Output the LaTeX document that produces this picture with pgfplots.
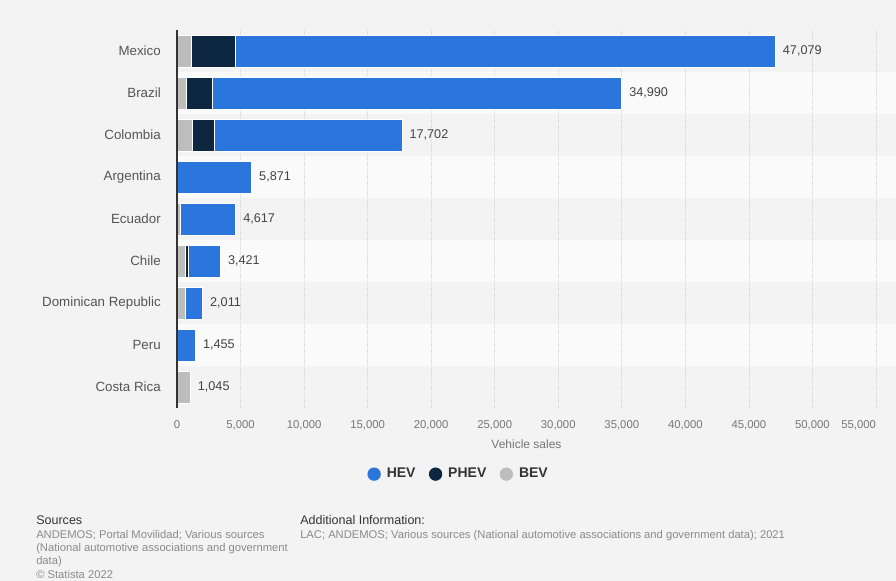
\documentclass[border=0pt]{standalone}
\usepackage{pgfplots}
\pgfplotsset{compat=1.18}
\usepackage{fontspec}
\setmainfont{Liberation Sans}
\definecolor{bg}{HTML}{F3F3F3}
\definecolor{band}{HTML}{FAFAFA}
\definecolor{hev}{HTML}{2A76DD}
\definecolor{phev}{HTML}{0E2740}
\definecolor{bev}{HTML}{BDBDBD}
\definecolor{gridc}{HTML}{D6D6D6}
\definecolor{axisc}{HTML}{333333}
\definecolor{ylab}{HTML}{555555}
\definecolor{xlab}{HTML}{777777}
\definecolor{vlab}{HTML}{444444}
\definecolor{legc}{HTML}{333333}
\definecolor{foot}{HTML}{8A8A8A}
\pgfplotsset{
  circlegend/.style={legend image code/.code={\fill[#1, draw=none] (5pt,0pt) circle (5pt);\path[draw=none, fill=none] (0pt,-1pt) rectangle (12.5pt,1pt);}},
  common/.style={at={(132.75pt,129.75pt)}, anchor=south west,
    scale only axis, width=524.25pt, height=283.5pt,
    xmin=0, xmax=55000, ymin=-0.5, ymax=8.5, y dir=reverse, clip=false},
}
\begin{document}
\begin{tikzpicture}[x=1pt,y=1pt]
\path[use as bounding box, fill=bg] (0,0) rectangle (672,435.75);
\begin{axis}[common, hide axis]
\fill[band] (axis cs:0,0.5) rectangle (axis cs:56600,1.5);
\fill[band] (axis cs:0,2.5) rectangle (axis cs:56600,3.5);
\fill[band] (axis cs:0,4.5) rectangle (axis cs:56600,5.5);
\fill[band] (axis cs:0,6.5) rectangle (axis cs:56600,7.5);
\end{axis}
\begin{axis}[
  common,
  xbar stacked, bar width=24pt,
  ytick={0,...,8},
  yticklabels={Mexico,Brazil,Colombia,Argentina,Ecuador,Chile,Dominican Republic,Peru,Costa Rica},
  xtick={0,5000,...,50000},
  extra x ticks={55000},
  extra x tick style={grid=major, xticklabel style={xshift=-13pt}},
  scaled x ticks=false,
  /pgf/number format/1000 sep={,},
  /pgf/number format/assume math mode=true,
  major tick length=0pt, tick style={draw=none},
  axis line style={draw=none},
  xmajorgrids, grid style={densely dotted, gridc, line width=0.6pt},
  yticklabel style={font=\fontsize{10}{12}\selectfont, text=ylab, inner sep=0pt, anchor=east, xshift=-12pt},
  xticklabel style={font=\fontsize{8.5}{10}\selectfont, text=xlab, inner sep=0pt, anchor=north, yshift=-9pt},
  xlabel={Vehicle sales},
  xlabel style={font=\fontsize{9}{11}\selectfont, text=xlab, at={(axis description cs:0.5,-0.095)}, anchor=center},
  legend style={at={(0.4034,-0.175)}, anchor=center, draw=none, fill=none,
    legend columns=-1, font=\fontsize{10.5}{12}\selectfont\bfseries, text=legc,
    /tikz/every even column/.append style={column sep=8pt}},
  reverse legend,
]
\addplot[fill=bev, draw=white, line width=0.5pt, circlegend=bev] coordinates {
(1100,0) (700,1) (1240,2) (0,3) (300,4) (630,5) (690,6) (0,7) (1045,8)};
\addlegendentry{BEV}
\addplot[fill=phev, draw=white, line width=0.5pt, circlegend=phev] coordinates {
(3500,0) (2050,1) (1680,2) (0,3) (0,4) (250,5) (0,6) (0,7) (0,8)};
\addlegendentry{PHEV}
\addplot[fill=hev, draw=white, line width=0.5pt, circlegend=hev] coordinates {
(42479,0) (32240,1) (14782,2) (5871,3) (4317,4) (2541,5) (1321,6) (1455,7) (0,8)};
\addlegendentry{HEV}
\end{axis}
\begin{axis}[common, hide axis]
\addplot[only marks, mark=none, point meta=explicit,
  nodes near coords={\pgfmathprintnumber[1000 sep={,}, assume math mode=true]{\pgfplotspointmeta}},
  nodes near coords align=horizontal,
  nodes near coords style={font=\fontsize{9.5}{11}\selectfont, text=vlab, anchor=west, inner sep=0pt, xshift=5.5pt}]
  coordinates {
(47079,0) [47079] (34990,1) [34990] (17702,2) [17702] (5871,3) [5871] (4617,4) [4617] (3421,5) [3421] (2011,6) [2011] (1455,7) [1455] (1045,8) [1045]};
\end{axis}
\draw[axisc, line width=1pt] (132.75pt,129.75pt) -- (132.75pt,413.25pt);
\node[anchor=base west, inner sep=0, font=\fontsize{9.4}{11}\selectfont, text=axisc] at (27pt,42pt) {Sources};
\node[anchor=base west, inner sep=0, font=\fontsize{8.4}{9.4}\selectfont, text=foot] at (27pt,31.5pt) {ANDEMOS; Portal Movilidad; Various sources};
\node[anchor=base west, inner sep=0, font=\fontsize{8.4}{9.4}\selectfont, text=foot] at (27pt,22.3pt) {(National automotive associations and government};
\node[anchor=base west, inner sep=0, font=\fontsize{8.4}{9.4}\selectfont, text=foot] at (27pt,12.6pt) {data)};
\node[anchor=base west, inner sep=0, font=\fontsize{8.4}{9.4}\selectfont, text=foot] at (27pt,1.6pt) {© Statista 2022};
\node[anchor=base west, inner sep=0, font=\fontsize{9.4}{11}\selectfont, text=axisc] at (225pt,42pt) {Additional Information:};
\node[anchor=base west, inner sep=0, font=\fontsize{8.4}{9.4}\selectfont, text=foot] at (225pt,31.5pt) {LAC; ANDEMOS; Various sources (National automotive associations and government data); 2021};
\end{tikzpicture}
\end{document}
